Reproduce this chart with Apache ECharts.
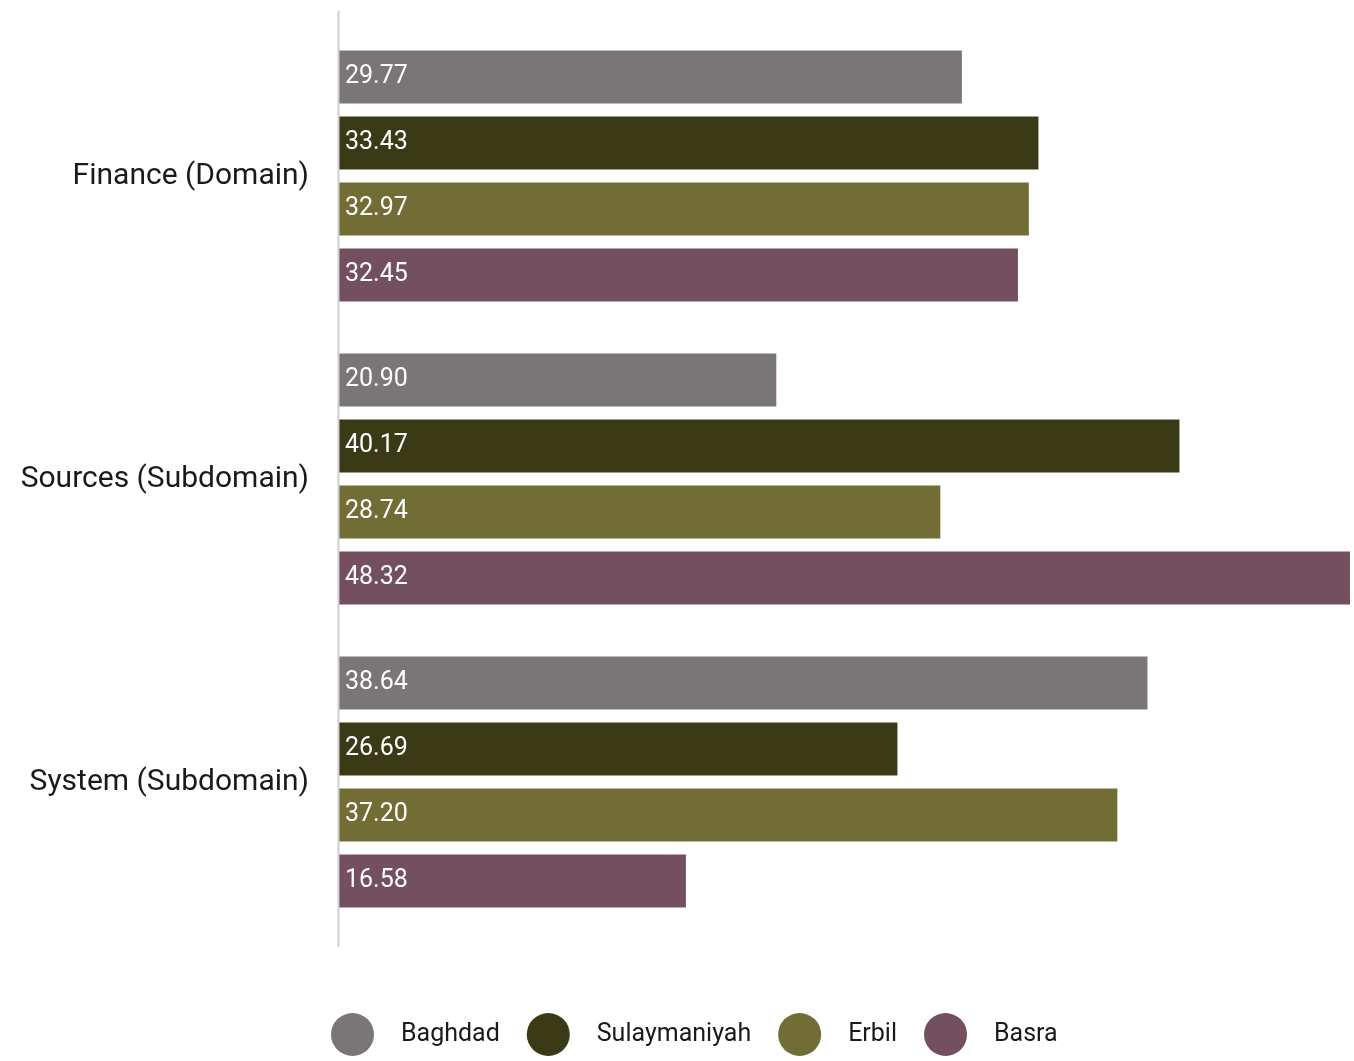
<!DOCTYPE html>
<html>
<head>
<meta charset="utf-8">
<script src="https://cdn.jsdelivr.net/npm/echarts@6/dist/echarts.min.js"></script>
<style>
  html, body { margin: 0; padding: 0; background: #ffffff; }
  #chart { width: 1354px; height: 1061px; }
</style>
</head>
<body>
<div id="chart"></div>
<script>
// Scores per indicator and city
const categories = ['Finance (Domain)', 'Sources (Subdomain)', 'System (Subdomain)'];
const cities = ['Baghdad', 'Sulaymaniyah', 'Erbil', 'Basra'];
const baghdad = [29.77, 20.90, 38.64];
const sulaymaniyah = [33.43, 40.17, 26.69];
const erbil = [32.97, 28.74, 37.20];
const basra = [32.45, 48.32, 16.58];
const cityColors = ['#7a7677', '#3a3a17', '#726c35', '#744f5f'];

const fontFamily = 'Roboto, "Noto Sans", sans-serif';
const values = [baghdad, sulaymaniyah, erbil, basra];

const chart = echarts.init(document.getElementById('chart'), null, { renderer: 'canvas' });

const GRID_LEFT = 339;
const GRID_TOP = 24.5;
const GRID_BOTTOM = 127.5;

chart.setOption({
  backgroundColor: '#ffffff',
  animation: false,
  grid: { left: GRID_LEFT, right: 4, top: GRID_TOP, bottom: GRID_BOTTOM, containLabel: false },
  xAxis: {
    type: 'value',
    min: 0,
    max: 'dataMax',
    show: false
  },
  yAxis: {
    type: 'category',
    data: categories,
    inverse: true,
    axisLine: { show: false },
    axisTick: { show: false },
    splitLine: { show: false },
    axisLabel: {
      margin: 30,
      color: '#1a1a1a',
      fontFamily: fontFamily,
      fontSize: 30
    }
  },
  legend: {
    data: cities,
    bottom: 0,
    left: 326,
    icon: 'circle',
    itemWidth: 43,
    itemHeight: 43,
    itemGap: 27,
    textStyle: {
      color: '#1a1a1a',
      fontFamily: fontFamily,
      fontSize: 25,
      padding: [0, 0, 0, 22]
    }
  },
  graphic: [{
    type: 'line',
    shape: { x1: 338.5, y1: 11, x2: 338.5, y2: 947 },
    style: { stroke: '#cfcfcf', lineWidth: 2 },
    z: 10
  }],
  series: cities.map((name, i) => ({
    name: name,
    type: 'bar',
    data: values[i],
    barWidth: 53,
    barGap: '24.5%',
    itemStyle: { color: cityColors[i] },
    label: {
      show: true,
      position: 'insideLeft',
      distance: 6,
      color: '#ffffff',
      fontFamily: fontFamily,
      fontSize: 25,
      formatter: p => p.value.toFixed(2)
    }
  }))
});
</script>
</body>
</html>
